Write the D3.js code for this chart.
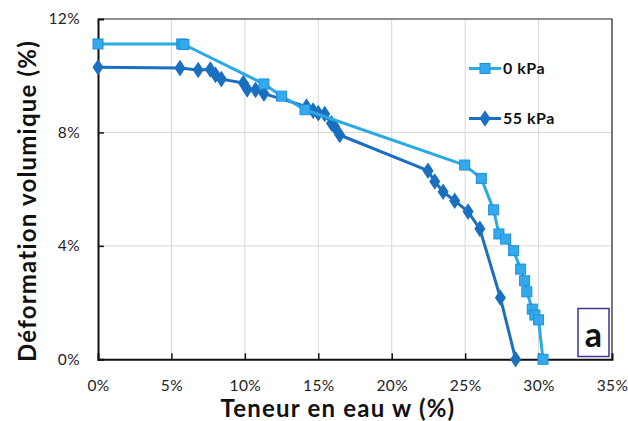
<!DOCTYPE html>
<html><head><meta charset="utf-8">
<script src="https://cdn.jsdelivr.net/npm/d3@7/dist/d3.min.js"></script>
<style>body{margin:0;background:#fff;} svg{display:block;}</style>
</head><body>
<svg id="c" width="628" height="421"></svg>
<script>
// Data: water content w (%) and volumetric deformation (%)
const w0 = [0, 5.7, 5.85, 11.3, 12.5, 14.1, 24.97, 26.1, 26.94, 27.3, 27.76, 28.3, 28.78, 29.05, 29.2, 29.57, 29.75, 30.0, 30.3];
const d0 = [11.12, 11.12, 11.1, 9.71, 9.28, 8.8, 6.85, 6.38, 5.27, 4.42, 4.24, 3.83, 3.18, 2.77, 2.38, 1.77, 1.56, 1.39, 0.0];
const w55 = [0, 5.58, 6.82, 7.65, 8.0, 8.4, 9.9, 10.16, 10.73, 11.3, 14.2, 14.65, 15.0, 15.44, 15.9, 16.12, 16.46, 22.47, 22.93, 23.5, 24.29, 25.2, 26.0, 27.4, 28.44];
const d55 = [10.3, 10.27, 10.2, 10.22, 10.03, 9.88, 9.74, 9.52, 9.5, 9.37, 8.91, 8.77, 8.68, 8.65, 8.32, 8.2, 7.91, 6.65, 6.27, 5.91, 5.59, 5.21, 4.6, 2.17, 0.0];
const xTicks = [0, 5, 10, 15, 20, 25, 30, 35];
const yTicks = [0, 4, 8, 12];
const seriesNames = ["0 kPa", "55 kPa"];

const svg = d3.select("#c");
const L = 98, R = 612, T = 19, B = 359.3;
const x = d3.scaleLinear().domain([0, 35]).range([L, R]);
const y = d3.scaleLinear().domain([0, 12]).range([B, T]);
const font = "Lato, 'Open Sans', sans-serif";

// gridlines
svg.append("g").selectAll("line").data(xTicks.slice(1, -1)).join("line")
  .attr("x1", d => x(d)).attr("x2", d => x(d)).attr("y1", T).attr("y2", B)
  .attr("stroke", "#d9d9d9").attr("stroke-width", 1);
svg.append("g").selectAll("line").data(yTicks.slice(1, -1)).join("line")
  .attr("x1", L).attr("x2", R).attr("y1", d => y(d)).attr("y2", d => y(d))
  .attr("stroke", "#d9d9d9").attr("stroke-width", 1);

// border top/right
svg.append("path").attr("d", `M${L},${T}H${R}V${B}`).attr("fill", "none").attr("stroke", "#222").attr("stroke-width", 1.2);

// axes
const xAxis = d3.axisBottom(x).tickValues(xTicks).tickSize(-6).tickPadding(21).tickFormat(d => d + "%");
const yAxis = d3.axisLeft(y).tickValues(yTicks).tickSize(-6).tickPadding(18).tickFormat(d => d + "%");
const gx = svg.append("g").attr("transform", `translate(0,${B})`).call(xAxis);
const gy = svg.append("g").attr("transform", `translate(${L},0)`).call(yAxis);
[gx, gy].forEach(g => {
  g.select(".domain").attr("stroke", "#111").attr("stroke-width", 2);
  g.selectAll(".tick line").attr("stroke", "#111").attr("stroke-width", 1.5);
  g.selectAll(".tick text").attr("font-family", font).attr("font-size", 15.5).attr("fill", "#222").attr("letter-spacing", 0.4);
});
gx.selectAll(".tick line").filter(d => d === 0 || d === 35).remove();
gy.selectAll(".tick line").filter(d => d === 0 || d === 12).remove();

// axis titles
svg.append("text").attr("x", 338).attr("y", 417).attr("text-anchor", "middle")
  .attr("font-family", font).attr("font-weight", "bold").attr("font-size", 24).attr("letter-spacing", 1.2).attr("fill", "#111")
  .text("Teneur en eau w (%)");
svg.append("text").attr("transform", "translate(36,201) rotate(-90)").attr("text-anchor", "middle")
  .attr("font-family", font).attr("font-weight", "bold").attr("font-size", 24).attr("letter-spacing", 1.2).attr("fill", "#111")
  .text("Déformation volumique (%)");

const c0 = "#29aae2", c0f = "#33aaee", c0s = "#1e8fd6";
const c55 = "#1a6fc0";
const line = d3.line().x(d => x(d[0])).y(d => y(d[1]));
const p0 = w0.map((v, i) => [v, d0[i]]);
const p55 = w55.map((v, i) => [v, d55[i]]);

svg.append("path").datum(p55).attr("d", line).attr("fill", "none").attr("stroke", c55).attr("stroke-width", 3).attr("stroke-linejoin", "round");
svg.append("g").selectAll("path").data(p55).join("path")
  .attr("d", d3.symbol(d3.symbolDiamond, 80)())
  .attr("transform", d => `translate(${x(d[0])},${y(d[1])}) scale(1.15,1)`)
  .attr("fill", c55);

svg.append("path").datum(p0).attr("d", line).attr("fill", "none").attr("stroke", c0).attr("stroke-width", 3).attr("stroke-linejoin", "round");
svg.append("g").selectAll("rect").data(p0).join("rect")
  .attr("x", d => x(d[0]) - 5).attr("y", d => y(d[1]) - 5).attr("width", 10).attr("height", 10)
  .attr("fill", c0f).attr("stroke", c0s).attr("stroke-width", 1);

// legend
const lg = svg.append("g");
lg.append("line").attr("x1", 469).attr("x2", 501).attr("y1", 68.5).attr("y2", 68.5).attr("stroke", c0).attr("stroke-width", 3);
lg.append("rect").attr("x", 480).attr("y", 63.5).attr("width", 10).attr("height", 10).attr("fill", c0f).attr("stroke", c0s);
lg.append("text").attr("x", 503).attr("y", 74).attr("font-family", font).attr("font-weight", "bold").attr("font-size", 16).attr("letter-spacing", 0.5).attr("fill", "#111").text(seriesNames[0]);
lg.append("line").attr("x1", 469).attr("x2", 501).attr("y1", 118.5).attr("y2", 118.5).attr("stroke", c55).attr("stroke-width", 3);
lg.append("path").attr("d", d3.symbol(d3.symbolDiamond, 80)()).attr("transform", "translate(485,118.5) scale(1.15,1)").attr("fill", c55);
lg.append("text").attr("x", 503).attr("y", 124).attr("font-family", font).attr("font-weight", "bold").attr("font-size", 16).attr("letter-spacing", 0.5).attr("fill", "#111").text(seriesNames[1]);

// panel label
svg.append("rect").attr("x", 578).attr("y", 308.5).attr("width", 31).attr("height", 48).attr("fill", "#fff").attr("stroke", "#3b3590").attr("stroke-width", 1.5);
svg.append("text").attr("x", 593.5).attr("y", 347).attr("text-anchor", "middle").attr("font-family", font).attr("font-weight", "bold").attr("font-size", 34).attr("fill", "#111").text("a");
</script>
</body></html>
